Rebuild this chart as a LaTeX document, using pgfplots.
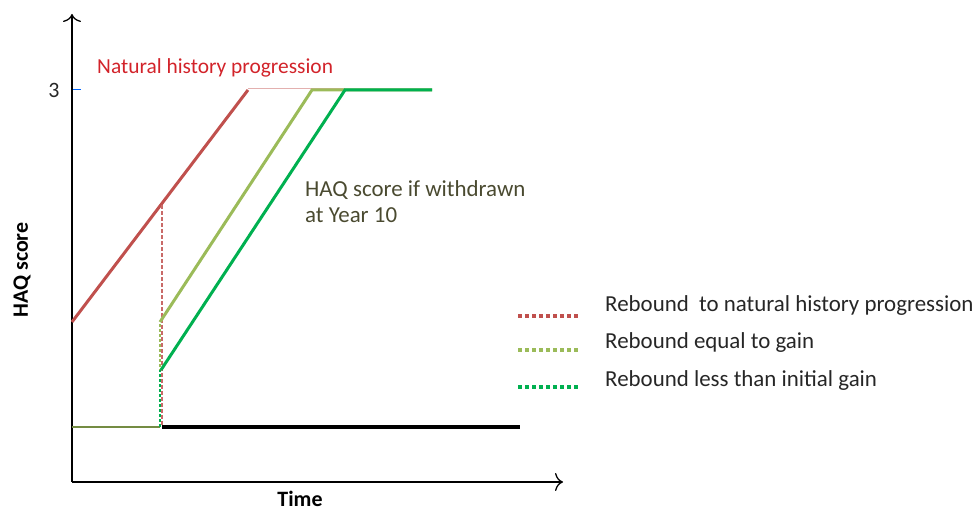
\documentclass[border=0pt]{standalone}
\usepackage{pgfplots}
\pgfplotsset{compat=1.18}
\usepackage{fontspec}
\setmainfont{Carlito}
\usetikzlibrary{arrows.meta}
\definecolor{cred}{HTML}{C0504D}
\definecolor{colive}{HTML}{9BBB59}
\definecolor{cgreen}{HTML}{00B050}
\definecolor{ctxtred}{HTML}{D2232A}
\definecolor{ctxt}{HTML}{262626}
\definecolor{cnote}{HTML}{4A4A30}
\newcommand\fs{\fontsize{22}{26}\selectfont}
\newcommand\fl{\fontsize{23}{26}\selectfont}
\newcommand\fr{\fontsize{21.5}{26}\selectfont}
\begin{document}
\begin{tikzpicture}
\begin{axis}[
  x=1bp, y=1bp,
  xmin=0, xmax=491, ymin=0, ymax=468,
  axis lines=left,
  axis line style={line width=1.3bp, -{To[length=8bp,width=18bp,line width=1.3bp]}},
  clip=false,
  xtick=\empty, ytick={392}, yticklabels={3},
  tick align=inside,
  major tick length=9bp,
  ytick style={color=blue!60!cyan, line width=1bp},
  yticklabel style={font=\fs, text=ctxt, xshift=-9bp},
  /pgf/number format/assume math mode=true,
]
% baseline
\addplot[color=colive!75!black, line width=2bp] coordinates {(0,55) (88,55)};
\addplot[black, line width=3.2bp] coordinates {(90,55) (448,55)};
% natural history
\addplot[cred!45, line width=0.9bp] coordinates {(176,394) (273,394)};
\addplot[cred, line width=3bp] coordinates {(0,160) (176,392)};
% withdrawal drops
\addplot[cred!85, line width=1.8bp, dash pattern=on 4bp off 2bp] coordinates {(90,277) (90,55)};
\addplot[colive, line width=2.2bp, dash pattern=on 3bp off 2bp] coordinates {(88,55) (88,160)};
\addplot[cgreen, line width=2.2bp, dash pattern=on 3bp off 2bp] coordinates {(88,55) (88,112)};
% rebound lines
\addplot[colive, line width=3bp] coordinates {(88,160) (240,392) (360,392)};
\addplot[cgreen, line width=3bp] coordinates {(89,112) (273,392) (360,392)};
% legend samples
\addplot[cred, line width=3.5bp, dash pattern=on 4bp off 3bp] coordinates {(446,166) (508,166)};
\addplot[colive, line width=3.5bp, dash pattern=on 4bp off 3bp] coordinates {(446,132) (508,132)};
\addplot[cgreen, line width=3.5bp, dash pattern=on 4bp off 3bp] coordinates {(446,95) (508,95)};
% texts
\node[anchor=west, text=ctxt, font=\fl, inner sep=0pt] at (axis cs:533,176) {Rebound\ \ to natural history progression};
\node[anchor=west, text=ctxt, font=\fl, inner sep=0pt] at (axis cs:533,139) {Rebound equal to gain};
\node[anchor=west, text=ctxt, font=\fl, inner sep=0pt] at (axis cs:533,101) {Rebound less than initial gain};
\node[anchor=west, text=ctxtred, font=\fr, inner sep=0pt] at (axis cs:25,414) {Natural history progression};
\node[anchor=west, text=cnote, font=\fl, align=left, inner sep=0pt] at (axis cs:233,280) {HAQ score if withdrawn\\at Year 10};
\node[rotate=90, text=black, font=\fs\bfseries, inner sep=0pt] at (axis cs:-50,212) {HAQ score};
\node[text=black, font=\fs\bfseries, inner sep=0pt] at (axis cs:228,-17) {Time};
\coordinate (bl) at (axis cs:-72,-29);
\coordinate (tr) at (axis cs:906,482);
\end{axis}
\pgfresetboundingbox
\path (bl) rectangle (tr);
\end{tikzpicture}
\end{document}
